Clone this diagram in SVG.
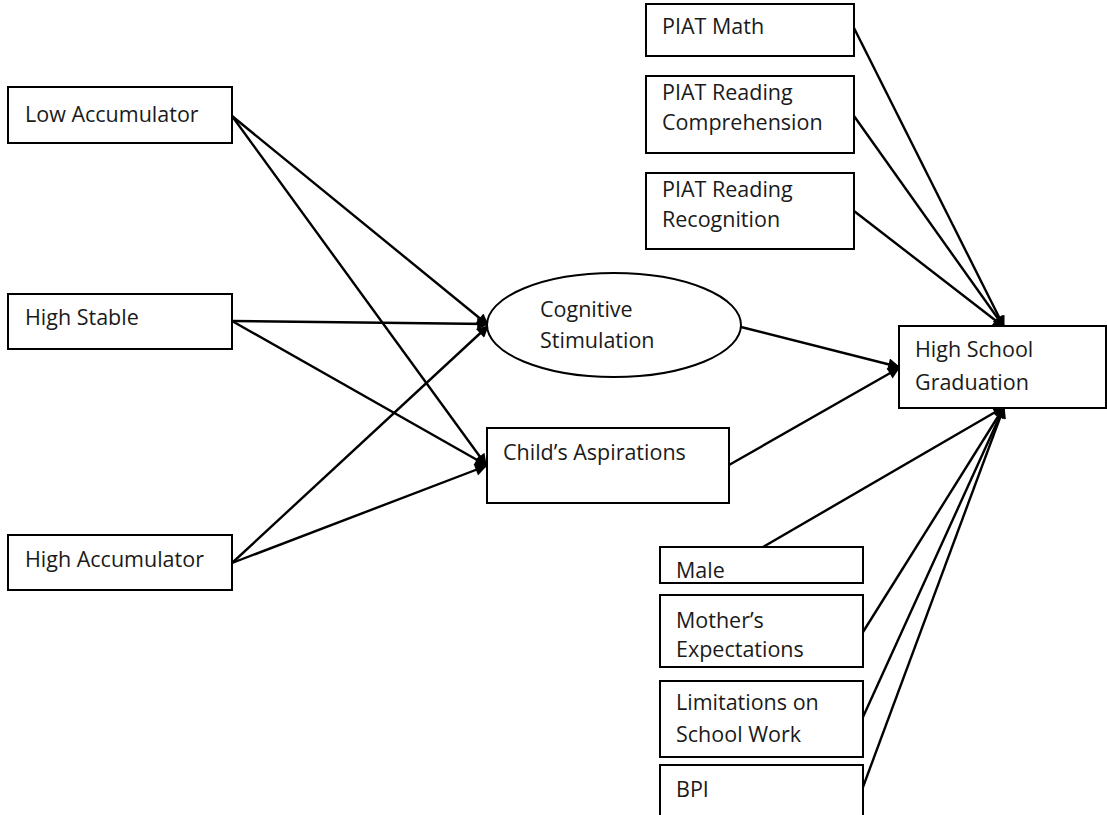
<svg xmlns="http://www.w3.org/2000/svg" width="1107" height="815" viewBox="0 0 1107 815">
<style>
.box{fill:#fff;stroke:#000;stroke-width:2}
.t{font-family:"Open Sans","Liberation Sans",sans-serif;font-size:21.5px;fill:#1a1a1a}
.c{stroke:#000;stroke-width:2.4;fill:none;marker-end:url(#ah)}
</style>
<defs>
<marker id="ah" viewBox="0 0 10 10" refX="9" refY="5" markerWidth="14" markerHeight="12" markerUnits="userSpaceOnUse" orient="auto">
<path d="M0,0 L10,5 L0,10 Z" fill="#000"/>
</marker>
</defs>
<rect width="1107" height="815" fill="#fff"/>
<g id="connectors">
<line class="c" x1="232" y1="116" x2="488" y2="325"/>
<line class="c" x1="232" y1="116" x2="486" y2="465"/>
<line class="c" x1="232" y1="321" x2="488" y2="324"/>
<line class="c" x1="232" y1="321" x2="486" y2="465"/>
<line class="c" x1="232" y1="563" x2="488" y2="326"/>
<line class="c" x1="232" y1="563" x2="486" y2="466"/>
<line class="c" x1="741" y1="327" x2="899" y2="367"/>
<line class="c" x1="729" y1="465" x2="899" y2="368"/>
<line class="c" x1="854" y1="28" x2="1004" y2="327"/>
<line class="c" x1="854" y1="116" x2="1004" y2="327"/>
<line class="c" x1="854" y1="211" x2="1004" y2="327"/>
<line class="c" x1="763" y1="547" x2="1004" y2="407"/>
<line class="c" x1="863" y1="632" x2="1004" y2="407"/>
<line class="c" x1="863" y1="717" x2="1004" y2="407"/>
<line class="c" x1="863" y1="787" x2="1004" y2="407"/>
</g>
<g id="low-accumulator"><rect class="box" x="8" y="87" width="224" height="56"/><text class="t" x="25" y="122">Low Accumulator</text></g>
<g id="high-stable"><rect class="box" x="8" y="294" width="224" height="55"/><text class="t" x="25" y="325">High Stable</text></g>
<g id="high-accumulator"><rect class="box" x="8" y="535" width="224" height="55"/><text class="t" x="25" y="567">High Accumulator</text></g>
<g id="cognitive-stimulation"><ellipse class="box" cx="614" cy="325" rx="127" ry="52"/><text class="t" x="540" y="317">Cognitive</text><text class="t" x="540" y="348">Stimulation</text></g>
<g id="childs-aspirations"><rect class="box" x="487" y="428" width="242" height="75"/><text class="t" x="503" y="460">Child’s Aspirations</text></g>
<g id="piat-math"><rect class="box" x="646" y="4" width="208" height="52"/><text class="t" x="662" y="34">PIAT Math</text></g>
<g id="piat-reading-comprehension"><rect class="box" x="646" y="76" width="208" height="77"/><text class="t" x="662" y="100">PIAT Reading</text><text class="t" x="662" y="130">Comprehension</text></g>
<g id="piat-reading-recognition"><rect class="box" x="646" y="173" width="208" height="76"/><text class="t" x="662" y="197">PIAT Reading</text><text class="t" x="662" y="227">Recognition</text></g>
<g id="high-school-graduation"><rect class="box" x="899" y="326" width="207" height="82"/><text class="t" x="915" y="357">High School</text><text class="t" x="915" y="390">Graduation</text></g>
<g id="male"><rect class="box" x="660" y="547" width="203" height="36"/><text class="t" x="676" y="578">Male</text></g>
<g id="mothers-expectations"><rect class="box" x="660" y="595" width="203" height="72"/><text class="t" x="676" y="628">Mother’s</text><text class="t" x="676" y="657">Expectations</text></g>
<g id="limitations"><rect class="box" x="660" y="681" width="203" height="76"/><text class="t" x="676" y="710">Limitations on</text><text class="t" x="676" y="742">School Work</text></g>
<g id="bpi"><rect class="box" x="660" y="765" width="203" height="60"/><text class="t" x="676" y="797">BPI</text></g>
</svg>
